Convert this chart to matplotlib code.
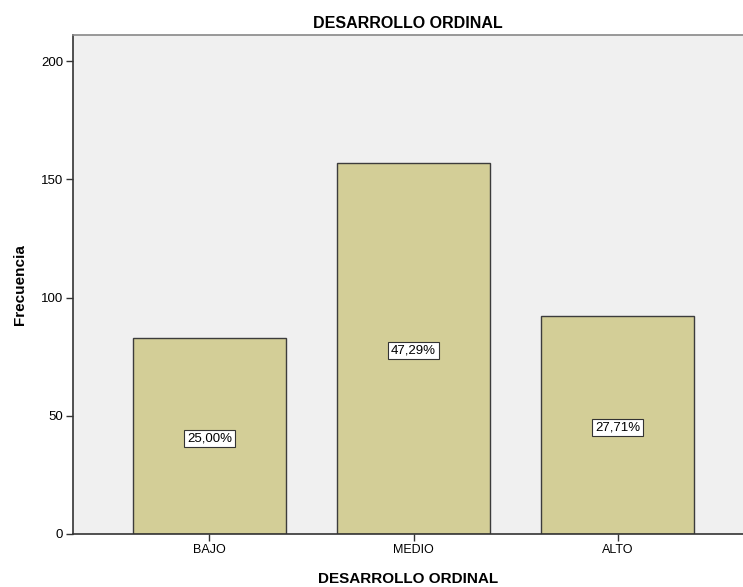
import matplotlib.pyplot as plt

plt.rcParams['font.family'] = ['Liberation Sans', 'DejaVu Sans']

# frequencies per category
categorias = ["BAJO", "MEDIO", "ALTO"]
frecuencias = [83, 157, 92]
porcentajes = ["25,00%", "47,29%", "27,71%"]
yticks = [0, 50, 100, 150, 200]

fig = plt.figure(figsize=(7.43, 5.87), dpi=100)
ax = fig.add_axes([73/743, 53/587, 670/743, 499/587])
ax.set_facecolor("#F0F0F0")

x = range(len(categorias))
ax.bar(x, frecuencias, width=0.75, color="#D3CE97", edgecolor="#3c3c3c", linewidth=1.0)

for xi, f, p in zip(x, frecuencias, porcentajes):
    ax.text(xi, f / 2 - 1, p, ha="center", va="center", fontsize=9.5,
            bbox=dict(boxstyle="square,pad=0.2", facecolor="white", edgecolor="#333333", linewidth=0.8))

ax.set_xlim(-0.669, 2.615)
ax.set_ylim(0, 211)
ax.set_xticks(list(x))
ax.set_xticklabels(categorias, fontsize=9)
ax.set_yticks(yticks)
ax.set_yticklabels([str(t) for t in yticks], fontsize=9.5)
ax.tick_params(axis="both", direction="out", length=5, width=1, color="#333333", pad=2)

for s in ["left", "bottom"]:
    ax.spines[s].set_color("#333333")
    ax.spines[s].set_linewidth(1.2)
ax.spines["top"].set_color("#888888")
ax.spines["top"].set_linewidth(1.2)
ax.spines["right"].set_visible(False)

ax.set_title("DESARROLLO ORDINAL", fontsize=11.5, fontweight="bold", pad=5)
ax.set_xlabel("DESARROLLO ORDINAL", fontsize=11, fontweight="bold", labelpad=12)
ax.set_ylabel("Frecuencia", fontsize=11, fontweight="bold", labelpad=10)

fig.savefig("out.png", dpi=100)
